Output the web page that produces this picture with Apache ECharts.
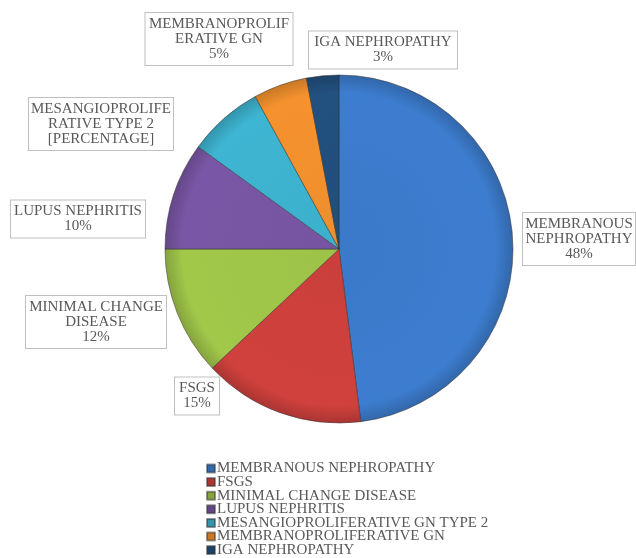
<!DOCTYPE html>
<html>
<head>
<meta charset="utf-8">
<script src="https://cdn.jsdelivr.net/npm/echarts@6/dist/echarts.min.js"></script>
<style>
  html, body { margin: 0; padding: 0; background: #fff; }
  #chart { width: 636px; height: 558px; }
</style>
</head>
<body>
<div id="chart"></div>
<script>
// categories as in the legend
const categories = [
  'MEMBRANOUS NEPHROPATHY',
  'FSGS',
  'MINIMAL CHANGE DISEASE',
  'LUPUS NEPHRITIS',
  'MESANGIOPROLIFERATIVE GN TYPE 2',
  'MEMBRANOPROLIFERATIVE GN',
  'IGA NEPHROPATHY'
];
// percent values
const values = [48, 15, 12, 10, 7, 5, 3];
// slice label text (wrapped like the original)
const labelText = [
  'MEMBRANOUS\nNEPHROPATHY\n48%',
  'FSGS\n15%',
  'MINIMAL CHANGE\nDISEASE\n12%',
  'LUPUS NEPHRITIS\n10%',
  'MESANGIOPROLIFE\nRATIVE TYPE 2\n[PERCENTAGE]',
  'MEMBRANOPROLIF\nERATIVE GN\n5%',
  'IGA NEPHROPATHY\n3%'
];
const colors = ['#3d7dcf', '#d0413d', '#a2c84a', '#7a57a6', '#3eb5d2', '#f5922e', '#22507f'];

// label box centre and inner width
const labelPos = [
  [579, 239], [197, 396], [96, 322], [78, 219], [101, 124], [219, 39], [383, 50]
];
const labelWidth = [100, 32, 128, 122, 132, 135, 136];

function shade(hex, f) {
  const n = parseInt(hex.slice(1), 16);
  let r = (n >> 16) & 255, g = (n >> 8) & 255, b = n & 255;
  r = Math.round(r * f); g = Math.round(g * f); b = Math.round(b * f);
  return 'rgb(' + r + ',' + g + ',' + b + ')';
}

const cx = 339, cy = 249, rad = 174;

const chart = echarts.init(document.getElementById('chart'));
chart.setOption({
  backgroundColor: '#fff',
  animation: false,
  legend: {
    orient: 'vertical',
    left: 206,
    top: 461,
    height: 120,
    padding: 0,
    itemWidth: 8,
    itemHeight: 8,
    itemGap: -1.4,
    icon: 'rect',
    textStyle: {
      fontFamily: 'Liberation Serif, Times New Roman, serif',
      fontSize: 15,
      color: '#595959',
      padding: [0, 0, 0, -3]
    },
    data: categories
  },
  series: [{
    type: 'pie',
    center: [cx, cy],
    radius: rad,
    startAngle: 90,
    clockwise: true,
    itemStyle: {
      borderColor: 'rgba(50,50,50,0.5)',
      borderWidth: 1
    },
    labelLine: { show: false },
    label: {
      show: true,
      position: 'outside',
      overflow: 'none',
      fontFamily: 'Liberation Serif, Times New Roman, serif',
      fontSize: 15,
      lineHeight: 15,
      color: '#595959',
      align: 'center',
      backgroundColor: '#fff',
      borderColor: '#bfbfbf',
      borderWidth: 1,
      padding: [4, 6, 3, 6],
      formatter: p => labelText[p.dataIndex]
    },
    labelLayout: p => ({
      x: labelPos[p.dataIndex][0],
      y: labelPos[p.dataIndex][1],
      width: labelWidth[p.dataIndex],
      align: 'center',
      verticalAlign: 'middle'
    }),
    data: categories.map((c, i) => ({
      name: c,
      value: values[i],
      itemStyle: {
        color: {
          type: 'radial', x: cx, y: cy, r: rad, global: true,
          colorStops: [
            { offset: 0, color: shade(colors[i], 0.97) },
            { offset: 0.9, color: colors[i] },
            { offset: 1, color: shade(colors[i], 0.82) }
          ]
        }
      }
    }))
  }]
});
</script>
</body>
</html>
